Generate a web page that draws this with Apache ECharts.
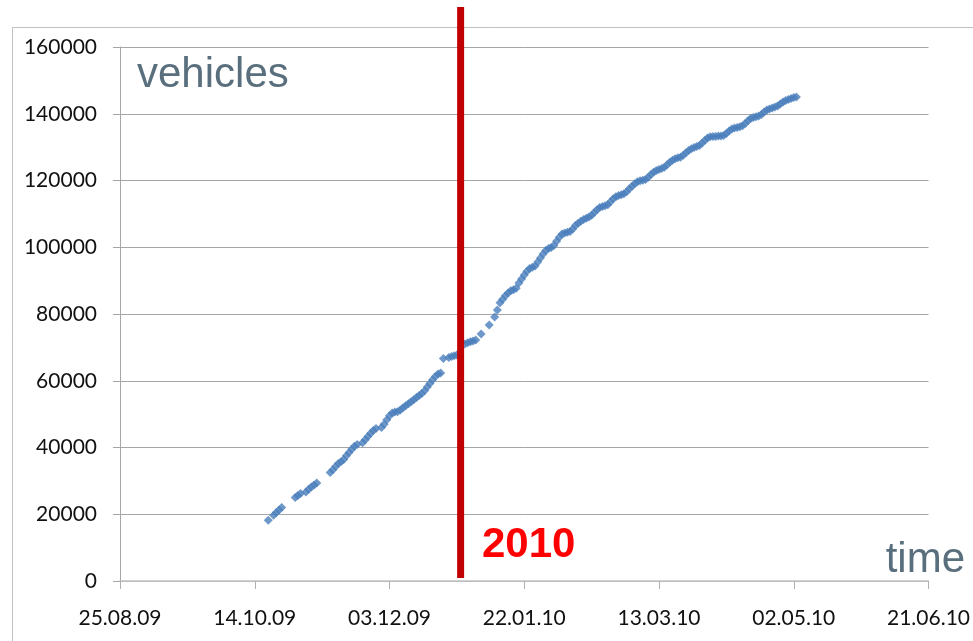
<!DOCTYPE html>
<html>
<head>
<meta charset="utf-8">
<title>vehicles over time</title>
<script src="https://cdn.jsdelivr.net/npm/echarts@6.0.0/dist/echarts.min.js"></script>
<style>
  html, body { margin: 0; padding: 0; background: #fff; }
  #chart { width: 973px; height: 641px; }
</style>
</head>
<body>
<div id="chart"></div>
<script>
// x axis runs in days counted from the first tick date
const axisStart = '2009-08-25';
const axisDays = 300;
const tickDays = 50;

const yMax = 160000;
const yStep = 20000;

// daily totals, first entry belongs to firstDay, null = no point that day
const firstDay = '2009-10-19';
const vehicles = [
  18200, null, 19700, 20500, 21300, 22000, null, null, null, null,
  25000, 25600, 26200, null, 26700, 27500, 28200, 28800, 29400, null,
  null, null, null, 32500, 33300, 34300, 35200, 35700, 36400, 37500,
  38500, 39500, 40400, 40900, null, 41400, 42300, 43300, 44300, 45100,
  45700, null, 46000, 47000, 48300, 49500, 50300, 50600, 50700, 51200,
  51900, 52500, 53100, 53700, 54300, 55000, 55600, 56200, 57000, 58100,
  59200, 60300, 61300, 62000, 62300, 66700, null, 67000, 67300, 67500,
  67700, null, null, 71000, 71400, 71700, 71900, 72200, null, 74000,
  null, null, 76700, null, 79100, 81200, 83400, 84400, 85500, 86300,
  87000, 87300, 87700, 89300, 90500, 91700, 92800, 93600, 94000, 94400,
  95600, 96800, 98000, 99000, 99600, 99900, 100500, 101800, 103000, 104000,
  104300, 104500, 104700, 105500, 106500, 107200, 107800, 108300, 108700, 109100,
  109600, 110400, 111200, 111900, 112200, 112400, 112700, 113600, 114500, 115100,
  115500, 115700, 116000, 116600, 117500, 118300, 119000, 119600, 119900, 120100,
  120300, 121000, 121800, 122500, 123000, 123300, 123600, 124000, 124700, 125500,
  126100, 126500, 126800, 127000, 127600, 128300, 129000, 129500, 129900, 130200,
  130500, 131200, 132000, 132700, 133100, 133200, 133200, 133300, 133300, 133500,
  134100, 134800, 135400, 135700, 135900, 136100, 136400, 137100, 137900, 138600,
  138900, 139100, 139300, 139800, 140500, 141100, 141400, 141700, 142000, 142300,
  142900, 143500, 144000, 144300, 144600, 144900, 145000
];

// year change marker
const yearMarkDate = '2009-12-29';
const yearLabel = '2010';

const DAY = 86400000;
const t0 = Date.parse(axisStart + 'T00:00:00Z');
const dayOffset = s => (Date.parse(s + 'T00:00:00Z') - t0) / DAY;

const pad = n => (n < 10 ? '0' : '') + n;
const fmtDay = v => {
  const d = new Date(t0 + v * DAY);
  return pad(d.getUTCDate()) + '.' + pad(d.getUTCMonth() + 1) + '.' + pad(d.getUTCFullYear() % 100);
};

const start = dayOffset(firstDay);
const points = [];
vehicles.forEach((v, i) => {
  if (v !== null) points.push([start + i, v]);
});
const markX = dayOffset(yearMarkDate);

const labelFont = 'Lato';
const chart = echarts.init(document.getElementById('chart'));

chart.setOption({
  animation: false,
  backgroundColor: '#fff',
  grid: [
    { left: 120, right: 42, top: 47, bottom: 60 },
    { left: 120, right: 42, top: 7, bottom: 63 }
  ],
  xAxis: [
    {
      type: 'value',
      gridIndex: 0,
      min: 0,
      max: axisDays,
      interval: tickDays,
      axisLine: { show: true, lineStyle: { color: '#c4c4c4', width: 1.5 } },
      axisTick: { show: true, length: 8, lineStyle: { color: '#b0b0b0' } },
      splitLine: { show: false },
      axisLabel: {
        formatter: fmtDay,
        margin: 27,
        color: '#111',
        fontFamily: labelFont,
        fontSize: 21
      }
    },
    { type: 'value', gridIndex: 1, min: 0, max: axisDays, show: false }
  ],
  yAxis: [
    {
      type: 'value',
      gridIndex: 0,
      min: 0,
      max: yMax,
      interval: yStep,
      axisLine: { show: true, lineStyle: { color: '#a6a6a6' } },
      axisTick: { show: true, length: 7, lineStyle: { color: '#a6a6a6' } },
      splitLine: { show: true, lineStyle: { color: '#a6a6a6', width: 1 } },
      axisLabel: {
        formatter: v => String(v),
        margin: 23,
        color: '#111',
        fontFamily: labelFont,
        fontSize: 21
      }
    },
    { type: 'value', gridIndex: 1, min: 0, max: 1, show: false }
  ],
  series: [
    {
      type: 'scatter',
      xAxisIndex: 0,
      yAxisIndex: 0,
      data: points,
      symbol: 'diamond',
      symbolSize: 9,
      itemStyle: { color: '#4a7ebb' },
      silent: true
    },
    {
      type: 'line',
      xAxisIndex: 1,
      yAxisIndex: 1,
      data: [[markX, 0], [markX, 1]],
      showSymbol: false,
      symbol: 'none',
      lineStyle: { color: '#c00000', width: 7, cap: 'butt' },
      z: 5,
      silent: true
    }
  ],
  graphic: [
    {
      type: 'rect',
      silent: true,
      shape: { x: 12.5, y: 27.5, width: 1000, height: 700 },
      style: { fill: 'none', stroke: '#c0c0c0', lineWidth: 1 }
    },
    {
      type: 'text',
      x: 137,
      y: 75,
      style: {
        text: 'vehicles',
        fontFamily: 'Liberation Sans',
        fontSize: 42,
        fill: '#5a6f7d',
        align: 'left',
        verticalAlign: 'middle'
      }
    },
    {
      type: 'text',
      x: 965,
      y: 560,
      style: {
        text: 'time',
        fontFamily: 'Liberation Sans',
        fontSize: 42,
        fill: '#5a6f7d',
        align: 'right',
        verticalAlign: 'middle'
      }
    },
    {
      type: 'text',
      x: 482,
      y: 545,
      z: 10,
      style: {
        text: yearLabel,
        fontFamily: 'Liberation Sans',
        fontWeight: 'bold',
        fontSize: 42,
        fill: '#ff0000',
        align: 'left',
        verticalAlign: 'middle'
      }
    }
  ]
});
</script>
</body>
</html>
